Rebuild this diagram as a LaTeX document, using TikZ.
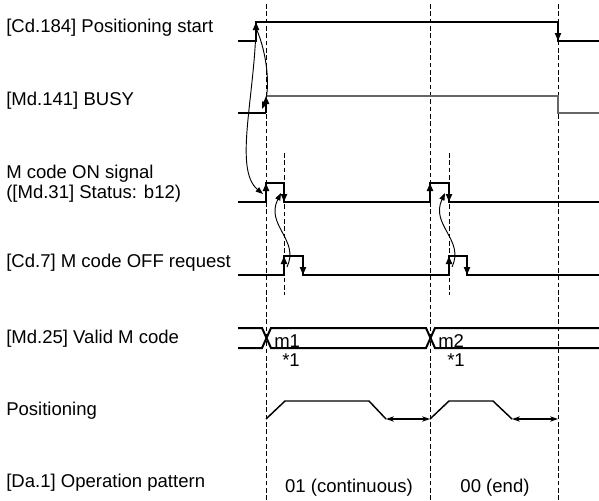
\documentclass[tikz,border=0pt]{standalone}
\usepackage{fontspec}
\setmainfont{Liberation Sans}
\usetikzlibrary{arrows.meta}
\begin{document}
\begin{tikzpicture}[x=0.75pt,y=-0.75pt,
  every node/.style={font=\fontsize{13.9}{15}\selectfont,inner sep=0pt},
  sg/.style={line width=1.5pt},
  gy/.style={line width=1.3pt,black!60},
  eg/.style={line width=1.5pt,-{Triangle[length=6pt,width=4.5pt]}},
  dl/.style={line width=0.6pt,dash pattern=on 3.5pt off 2pt},
  cv/.style={line width=0.7pt,-{Triangle[length=5.5pt,width=4pt]}},
  ps/.style={line width=1.1pt},
  da/.style={line width=0.8pt,{Stealth[length=6pt,width=4pt]}-{Stealth[length=6pt,width=4pt]}}]
\useasboundingbox (0,0) rectangle (599,500);
\def\xs{238}\def\xa{266}\def\xb{284}\def\xc{430}\def\xd{449}\def\xe{558}\def\xr{599}
%------------- dashed timing marks
\draw[dl] (\xa,4) -- (\xa,500);
\draw[dl] (\xc,4) -- (\xc,500);
\draw[dl] (\xe,4) -- (\xe,500);
\draw[dl] (\xb,153) -- (\xb,295);
\draw[dl] (\xd,153) -- (\xd,295);
%------------- labels
\node[anchor=base west] (lA) at (6,32) {[Cd.184] Positioning start};
\node[anchor=base west] (lB) at (6,105) {[Md.141] BUSY};
\node[anchor=base west,align=left] (lC) at (6,198) {M code ON signal\\([Md.31] Status: b12)};
\node[anchor=base west] (lD) at (6,267) {[Cd.7] M code OFF request};
\node[anchor=base west] (lE) at (6,343) {[Md.25] Valid M code};
\node[anchor=base west] (lF) at (6,415) {Positioning};
\node[anchor=base west] (lG) at (6,487) {[Da.1] Operation pattern};
%------------- row: Cd.184 positioning start
\def\yh{22}\def\yl{41}
\draw[sg] (\xs,\yl) -- (256,\yl) -- (256,\yh) -- (\xe,\yh) -- (\xe,\yl) -- (\xr,\yl);
\draw[eg] (256,\yl) -- (256,\yh);
\draw[eg] (\xe,\yh) -- (\xe,\yl);
\coordinate (st) at (256,28);
%------------- row: Md.141 BUSY
\def\yh{96}\def\yl{113}
\draw[sg] (\xs,\yl) -- (\xa,\yl);
\draw[gy] (\xa,\yh) -- (\xe,\yh) -- (\xe,\yl) -- (\xr,\yl);
\draw[eg] (\xa,\yl) -- (\xa,\yh);
\coordinate (bs) at (262,109);
%------------- row: M code ON signal
\def\yh{183}\def\yl{202}
\draw[sg] (\xs,\yl) -- (\xa,\yl) -- (\xa,\yh) -- (\xb,\yh) -- (\xb,\yl) -- (\xc,\yl)
  -- (\xc,\yh) -- (\xd,\yh) -- (\xd,\yl) -- (\xr,\yl);
\draw[eg] (\xa,\yl) -- (\xa,\yh); \draw[eg] (\xb,\yh) -- (\xb,\yl);
\draw[eg] (\xc,\yl) -- (\xc,\yh); \draw[eg] (\xd,\yh) -- (\xd,\yl);
\coordinate (m1) at (263,194); \coordinate (f1) at (281,193); \coordinate (f2) at (445,193);
%------------- row: Cd.7 M code OFF request
\def\yh{256}\def\yl{275}
\draw[sg] (\xs,\yl) -- (\xb,\yl) -- (\xb,\yh) -- (303,\yh) -- (303,\yl) -- (\xd,\yl)
  -- (\xd,\yh) -- (467,\yh) -- (467,\yl) -- (\xr,\yl);
\draw[eg] (\xb,\yl) -- (\xb,\yh); \draw[eg] (303,\yh) -- (303,\yl);
\draw[eg] (\xd,\yl) -- (\xd,\yh); \draw[eg] (467,\yh) -- (467,\yl);
\coordinate (r1) at (287,267); \coordinate (r2) at (452,267);
%------------- curved links
\draw[cv] (st) .. controls (268,55) and (270,90) .. (bs);
\draw[cv] (st) .. controls (254,100) and (234,170) .. (m1);
\draw[cv] (r1) .. controls (300,240) and (265,225) .. (f1);
\draw[cv] (r2) .. controls (465,240) and (430,225) .. (f2);
%------------- row: Md.25 valid M code
\def\yh{328}\def\yl{348}
\draw[sg] (\xs,\yh) -- (262,\yh) -- (271,\yl) -- (426,\yl) -- (435,\yh) -- (\xr,\yh);
\draw[sg] (\xs,\yl) -- (262,\yl) -- (271,\yh) -- (426,\yh) -- (435,\yl) -- (\xr,\yl);
\node[anchor=base west] (v1) at (274,347) {m1};
\node[anchor=base west] (v2) at (438,347) {m2};
\node[anchor=base west] (n1) at (282,366) {*1};
\node[anchor=base west] (n2) at (447,366) {*1};
%------------- row: positioning
\def\yh{401}\def\yl{419}
\draw[ps] (\xa,\yl) -- (285,\yh) -- (369,\yh) -- (386,\yl);
\draw[ps] (\xc,\yl) -- (\xd,\yh) -- (493,\yh) -- (512,\yl);
\coordinate (p1) at (386,\yl); \coordinate (p2) at (\xc,\yl);
\coordinate (p3) at (512,\yl); \coordinate (p4) at (\xe,\yl);
\draw[da] (p1) -- (p2);
\draw[da] (p3) -- (p4);
%------------- row: Da.1 operation pattern
\node[anchor=base] (o1) at (349,492) {01 (continuous)};
\node[anchor=base] (o2) at (495,492) {00 (end)};
\end{tikzpicture}
\end{document}
